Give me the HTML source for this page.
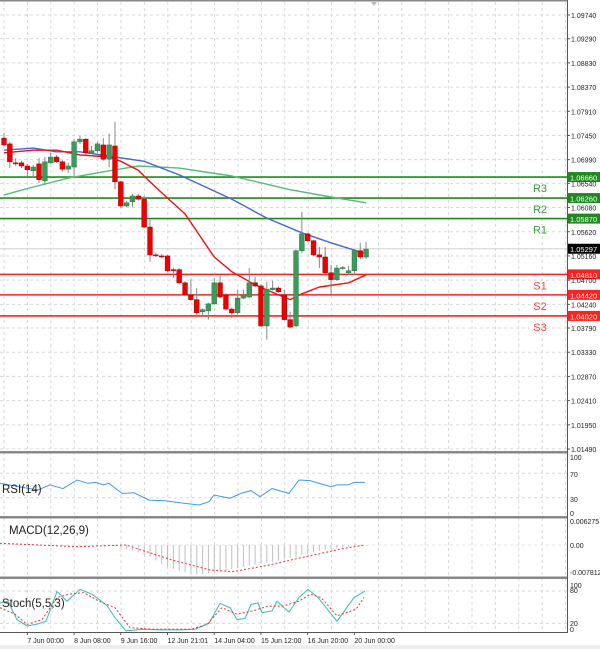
<!DOCTYPE html>
<html><head><meta charset="utf-8"><style>
html,body{margin:0;padding:0;background:#fff;}
svg{display:block;font-family:"Liberation Sans",sans-serif;}
</style></head><body>
<svg id="chart" width="600" height="649" viewBox="0 0 600 649">
<rect x="0" y="0" width="600" height="649" fill="#fff"/>
<g id="grid"></g>
<g id="levels"></g>
<g id="mas"></g>
<g id="candles"></g>
<g id="ind"></g>
<g id="axes"></g>
</svg>
<script>
const opens =  [1.0740,1.0729,1.0693,1.0693,1.0687,1.0678,1.0691,1.0659,1.0693,1.0704,1.0695,1.0681,1.0685,1.0733,1.0738,1.0712,1.0716,1.0727,1.0700,1.0725,1.0657,1.0611,1.0619,1.0630,1.0624,1.0571,1.0518,1.0516,1.0516,1.0490,1.0490,1.0465,1.0442,1.0433,1.0410,1.0412,1.0425,1.0465,1.0442,1.0415,1.0408,1.0436,1.0438,1.0465,1.0459,1.0383,1.0452,1.0455,1.0442,1.0395,1.0383,1.0526,1.0558,1.0545,1.0518,1.0514,1.0484,1.0471,1.0493,1.0484,1.0488,1.0526,1.0514];
const highs =  [1.0750,1.0733,1.0702,1.0697,1.0691,1.0689,1.0702,1.0704,1.0712,1.0708,1.0699,1.0693,1.0738,1.0744,1.0740,1.0725,1.0733,1.0740,1.0748,1.0771,1.0659,1.0621,1.0634,1.0634,1.0630,1.0586,1.0522,1.0520,1.0518,1.0494,1.0493,1.0468,1.0472,1.0455,1.0416,1.0427,1.0474,1.0480,1.0445,1.0418,1.0452,1.0452,1.0493,1.0476,1.0462,1.0467,1.0469,1.0458,1.0452,1.0410,1.0528,1.0600,1.0560,1.0547,1.0533,1.0533,1.0499,1.0499,1.0497,1.0497,1.0529,1.0541,1.0543];
const lows =   [1.0725,1.0683,1.0687,1.0683,1.0668,1.0664,1.0655,1.0651,1.0691,1.0693,1.0676,1.0674,1.0666,1.0729,1.0708,1.0710,1.0712,1.0697,1.0685,1.0643,1.0607,1.0609,1.0609,1.0621,1.0569,1.0505,1.0514,1.0512,1.0485,1.0474,1.0462,1.0440,1.0430,1.0404,1.0400,1.0395,1.0423,1.0436,1.0412,1.0398,1.0405,1.0434,1.0436,1.0457,1.0381,1.0357,1.0450,1.0446,1.0393,1.0379,1.0381,1.0522,1.0543,1.0516,1.0493,1.0482,1.0444,1.0469,1.0490,1.0480,1.0480,1.0510,1.0510];
const closes = [1.0727,1.0695,1.0692,1.0687,1.0680,1.0685,1.0661,1.0695,1.0704,1.0695,1.0681,1.0687,1.0733,1.0738,1.0712,1.0716,1.0729,1.0700,1.0727,1.0657,1.0611,1.0617,1.0630,1.0624,1.0571,1.0518,1.0517,1.0515,1.0488,1.0489,1.0465,1.0442,1.0433,1.0408,1.0414,1.0425,1.0465,1.0438,1.0415,1.0408,1.0436,1.0442,1.0465,1.0459,1.0383,1.0453,1.0455,1.0448,1.0395,1.0381,1.0526,1.0558,1.0545,1.0518,1.0514,1.0484,1.0471,1.0493,1.0494,1.0488,1.0526,1.0514,1.0529];

const redMaIdx = [0,5,9,13,18,20,23,25,28,31,36,39,43,47,49,51,54,59,62];
const redMaVal = [1.0712,1.0717,1.0717,1.0708,1.0704,1.0696,1.0679,1.0657,1.0626,1.0596,1.0514,1.0486,1.0461,1.0442,1.0433,1.0444,1.0457,1.0465,1.0480];
const blueMaIdx = [0,5,9,13,19,24,30,39,45,51,56,62];
const blueMaVal = [1.0717,1.0721,1.0714,1.0714,1.0704,1.0696,1.0670,1.0624,1.0588,1.0560,1.0541,1.0520];
const greenMaIdx = [0,5,11,17,23,30,39,49,56,62];
const greenMaVal = [1.0632,1.0647,1.0664,1.0676,1.0687,1.0683,1.0668,1.0642,1.0628,1.0617];

const resistNames = ["R3","R2","R1"];
const resistVals = [1.0666,1.0626,1.0587];
const supportNames = ["S1","S2","S3"];
const supportVals = [1.0481,1.0442,1.0402];
const currentPrice = 1.05297;

const priceTicks = [1.0974,1.0929,1.0883,1.0837,1.0791,1.0745,1.0699,1.0654,1.0608,1.0562,1.0516,1.0470,1.0424,1.0379,1.0333,1.0287,1.0241,1.0195,1.0149];
const timeLabels = ["20:00","7 Jun 00:00","8 Jun 08:00","9 Jun 16:00","12 Jun 21:01","14 Jun 04:00","15 Jun 12:00","16 Jun 20:00","20 Jun 00:00"];
const timeIdx = [-4,4,12,20,28,36,44,52,60];

const rsiX = [0,19,38,50,63,77,88,96,103,109,122,134,149,165,184,199,209,214,230,241,251,260,272,289,299,310,331,337,348,354,365];
const rsiVal = [53.6,48,42.7,51,45,59,53.6,55,51,53.6,37,38,26,25,21,18,23.5,34.5,29,37,41.6,31.7,45,37,59,58,48,51,51,55,55];

const macdHist = [0.0003,0.0003,0.0003,0.0002,0.0002,0.0001,-0.0002,-0.0003,-0.0004,-0.0004,-0.0003,-0.0003,-0.0002,-0.0002,-0.0002,-0.0001,-0.0001,-0.0002,-0.0003,-0.0004,-0.0008,-0.0012,-0.0016,-0.0022,-0.003,-0.0036,-0.0045,-0.0055,-0.0063,-0.007,-0.0076,-0.008,-0.0083,-0.0085,-0.0085,-0.0083,-0.008,-0.0077,-0.0074,-0.0071,-0.0068,-0.0064,-0.006,-0.0057,-0.0055,-0.0053,-0.005,-0.0046,-0.0042,-0.0038,-0.0035,-0.003,-0.0025,-0.0021,-0.0017,-0.0014,-0.0011,-0.0009,-0.0007,-0.0005,-0.0003,-0.0002,-0.0001];
const macdSigX = [0,77,126,172,210,233,268,306,344,365];
const macdSigVal = [0.0005,-0.0005,0,-0.0044,-0.0073,-0.0078,-0.0059,-0.0034,-0.001,0];

const stochKX = [0,8,17,27,38,46,57,67,80,92,107,115,126,142,161,180,195,209,220,230,237,245,251,258,262,272,277,289,299,308,318,337,354,365];
const stochKVal = [58,61,27,15,19,24,79,61,83,74,53,30.5,6,9,8,8,9,20,57,49,27,29,55,58,40,43,61,41,68,83,68,24,68,80];
const stochDX = [0,15,27,42,57,69,84,99,115,130,153,191,207,222,237,253,268,283,299,310,321,337,356,364];
const stochDVal = [49,37,18,27,68,74,77,61,49,12,9,9,18,49,37,43,52,52,61,74,68,34,46,68];

const NS="http://www.w3.org/2000/svg";
function mk(tag,attrs,parent){const e=document.createElementNS(NS,tag);for(const k in attrs)e.setAttribute(k,attrs[k]);parent.appendChild(e);return e;}
const AX=567;
const yP = p => 15 + (1.0974 - p) * 5261;
const xI = i => 4 + i * 5.84;
const yRsi = v => 473.3 - (v - 70) * 0.61;
const yMacd = v => 545 - v * 3418;
const ySto = v => 591 - (v - 80) * 0.539;

const grid=document.getElementById('grid');
for(let k=0;k<25;k++){const x=4+k*23.4;if(x>AX)break;
  const l=mk('line',{x1:x,y1:2,x2:x,y2:633,stroke:'#d9d9d9','stroke-dasharray':'3,3','stroke-width':1},grid);
  
  }
priceTicks.forEach(p=>{const l=mk('line',{x1:0,y1:yP(p),x2:AX,y2:yP(p),stroke:'#d9d9d9','stroke-dasharray':'3,3'},grid);
  
  });
[70,30].forEach(v=>{const l=mk('line',{x1:0,y1:yRsi(v),x2:AX,y2:yRsi(v),stroke:'#d9d9d9','stroke-dasharray':'3,3'},grid);
  
  });
[80,20].forEach(v=>{const l=mk('line',{x1:0,y1:ySto(v),x2:AX,y2:ySto(v),stroke:'#d9d9d9','stroke-dasharray':'3,3'},grid);
  
  });
{const l=mk('line',{x1:0,y1:yMacd(0),x2:AX,y2:yMacd(0),stroke:'#e6e6e6','stroke-dasharray':'3,3'},grid);

}

const lv=document.getElementById('levels');
{const l=mk('line',{x1:0,y1:yP(currentPrice),x2:AX,y2:yP(currentPrice),stroke:'#d0d0d0'},lv);

}
function level(name,val,color,labelColor){
  const y=yP(val);
  const l=mk('line',{x1:0,y1:y,x2:AX,y2:y,stroke:color,'stroke-width':1.6},lv);
  
  
  const t=mk('text',{x:540,y:y+15,'font-size':11,fill:labelColor,'text-anchor':'middle'},lv);
  t.textContent=name;
  
  
  const r=mk('rect',{x:AX+1,y:y-5,width:32,height:10,fill:color},lv);
  
  
  const pt=mk('text',{x:AX+3,y:y+3.5,'font-size':7.5,fill:'#fff'},lv);
  pt.textContent=val.toFixed(5);
  
  
}
resistNames.forEach((n,i)=>level(n,resistVals[i],'#1e8a1e','#3a9a3a'));
supportNames.forEach((n,i)=>level(n,supportVals[i],'#ff2020','#ff4040'));

const mas=document.getElementById('mas');
function poly(idx,vals,color,w,name){
  const pts=idx.map((i,k)=>xI(i).toFixed(1)+','+yP(vals[k]).toFixed(1)).join(' ');
  const p=mk('polyline',{points:pts,fill:'none',stroke:color,'stroke-width':w,'stroke-linejoin':'round'},mas);
  
  
}
poly(greenMaIdx,greenMaVal,'#55bb77',1.4,'ma-green');
poly(blueMaIdx,blueMaVal,'#4466dd',1.4,'ma-blue');
poly(redMaIdx,redMaVal,'#ee1111',1.4,'ma-red');

const cg=document.getElementById('candles');
opens.forEach((o,i)=>{
  const c=closes[i],x=xI(i);
  const g=mk('g',{},cg);
  
  
  mk('line',{x1:x,y1:yP(highs[i]),x2:x,y2:yP(lows[i]),stroke:'#888','stroke-width':1},g);
  const up=c>=o;const top=yP(Math.max(o,c)),h=Math.max(1,yP(Math.min(o,c))-top);
  mk('rect',{x:x-2.4,y:top,width:4.8,height:h,fill:up?'#3c9a5a':'#ee0000',stroke:up?'#2a7a44':'#aa0000','stroke-width':0.5},g);
});

const ind=document.getElementById('ind');
function line(xs,vals,fy,color,w,dash,name){
  const pts=xs.map((x,k)=>x+','+fy(vals[k]).toFixed(1)).join(' ');
  const a={points:pts,fill:'none',stroke:color,'stroke-width':w};
  if(dash)a['stroke-dasharray']=dash;
  const p=mk('polyline',a,ind);
  
  
}
line(rsiX,rsiVal,yRsi,'#4499ee',1,null,'rsi-line');
macdHist.forEach((v,i)=>{
  const x=xI(i);
  const l=mk('line',{x1:x,y1:yMacd(0),x2:x,y2:yMacd(v),stroke:'#c0c0c0','stroke-width':1},ind);
  
  
});
line(macdSigX,macdSigVal,yMacd,'#ee3333',1,'2,2','macd-signal-line');
line(stochKX,stochKVal,ySto,'#44c2b8',1.1,null,'stoch-k-line');
line(stochDX,stochDVal,ySto,'#ee3333',1,'2,2','stoch-d-line');

const ax=document.getElementById('axes');
function rect(a,name){const r=mk('rect',a,ax);return r;}
rect({x:0,y:0,width:AX,height:1.5,fill:'#888'},'top-border');
rect({x:0,y:451,width:AX,height:2.5,fill:'#888'},'panel-separator-rsi');
rect({x:0,y:516,width:AX,height:2.5,fill:'#888'},'panel-separator-macd');
rect({x:0,y:576.5,width:AX,height:2.5,fill:'#888'},'panel-separator-stoch');
rect({x:0,y:632,width:AX+1,height:1,fill:'#555'},'bottom-axis-line');
rect({x:AX,y:0,width:1,height:633,fill:'#555'},'right-axis-line');
rect({x:0,y:645,width:600,height:4,fill:'#eeeeee'},'bottom-strip');
function txt(x,y,s,size,name,fill,anchor){const t=mk('text',{x:x,y:y,'font-size':size,fill:fill||'#222'},ax);if(anchor)t.setAttribute('text-anchor',anchor);t.textContent=s;return t;}
priceTicks.forEach(p=>{
  const y=yP(p);
  mk('line',{x1:AX,y1:y,x2:AX+3,y2:y,stroke:'#555'},ax);
  txt(AX+4,y+3,p.toFixed(5),7,'price-tick-label');
});
[[100,457],[70,474],[30,499],[0,513]].forEach(a=>txt(AX+3,a[1]+3,String(a[0]),7,'rsi-tick-label'));
txt(AX+3,524,'0.006275',7,'macd-tick-label');
txt(AX+3,548,'0.00',7,'macd-tick-label');
txt(AX+3,575,'-0.007812',7,'macd-tick-label');
[[100,585],[80,590],[20,623],[0,629]].forEach(a=>txt(AX+3,a[1]+3,String(a[0]),7,'stoch-tick-label'));
timeLabels.forEach((s,i)=>{
  const x=xI(timeIdx[i]);
  mk('line',{x1:x,y1:632,x2:x,y2:635,stroke:'#555'},ax);
  txt(x,643,s,7,'time-tick-label');
});
rect({x:AX+1,y:yP(currentPrice)-5,width:32,height:10,fill:'#000'},'current-price-tag');
txt(AX+3,yP(currentPrice)+3.5,currentPrice.toFixed(5),7.5,'current-price-value','#fff');
txt(2,493,'RSI(14)',11.5,'rsi-title');
txt(9,534,'MACD(12,26,9)',11.5,'macd-title');
txt(2,607,'Stoch(5,5,3)',11.5,'stoch-title');
const tri=mk('polygon',{points:'371,2 377,2 374,6',fill:'#bbb'},ax);


</script>
</body></html>
